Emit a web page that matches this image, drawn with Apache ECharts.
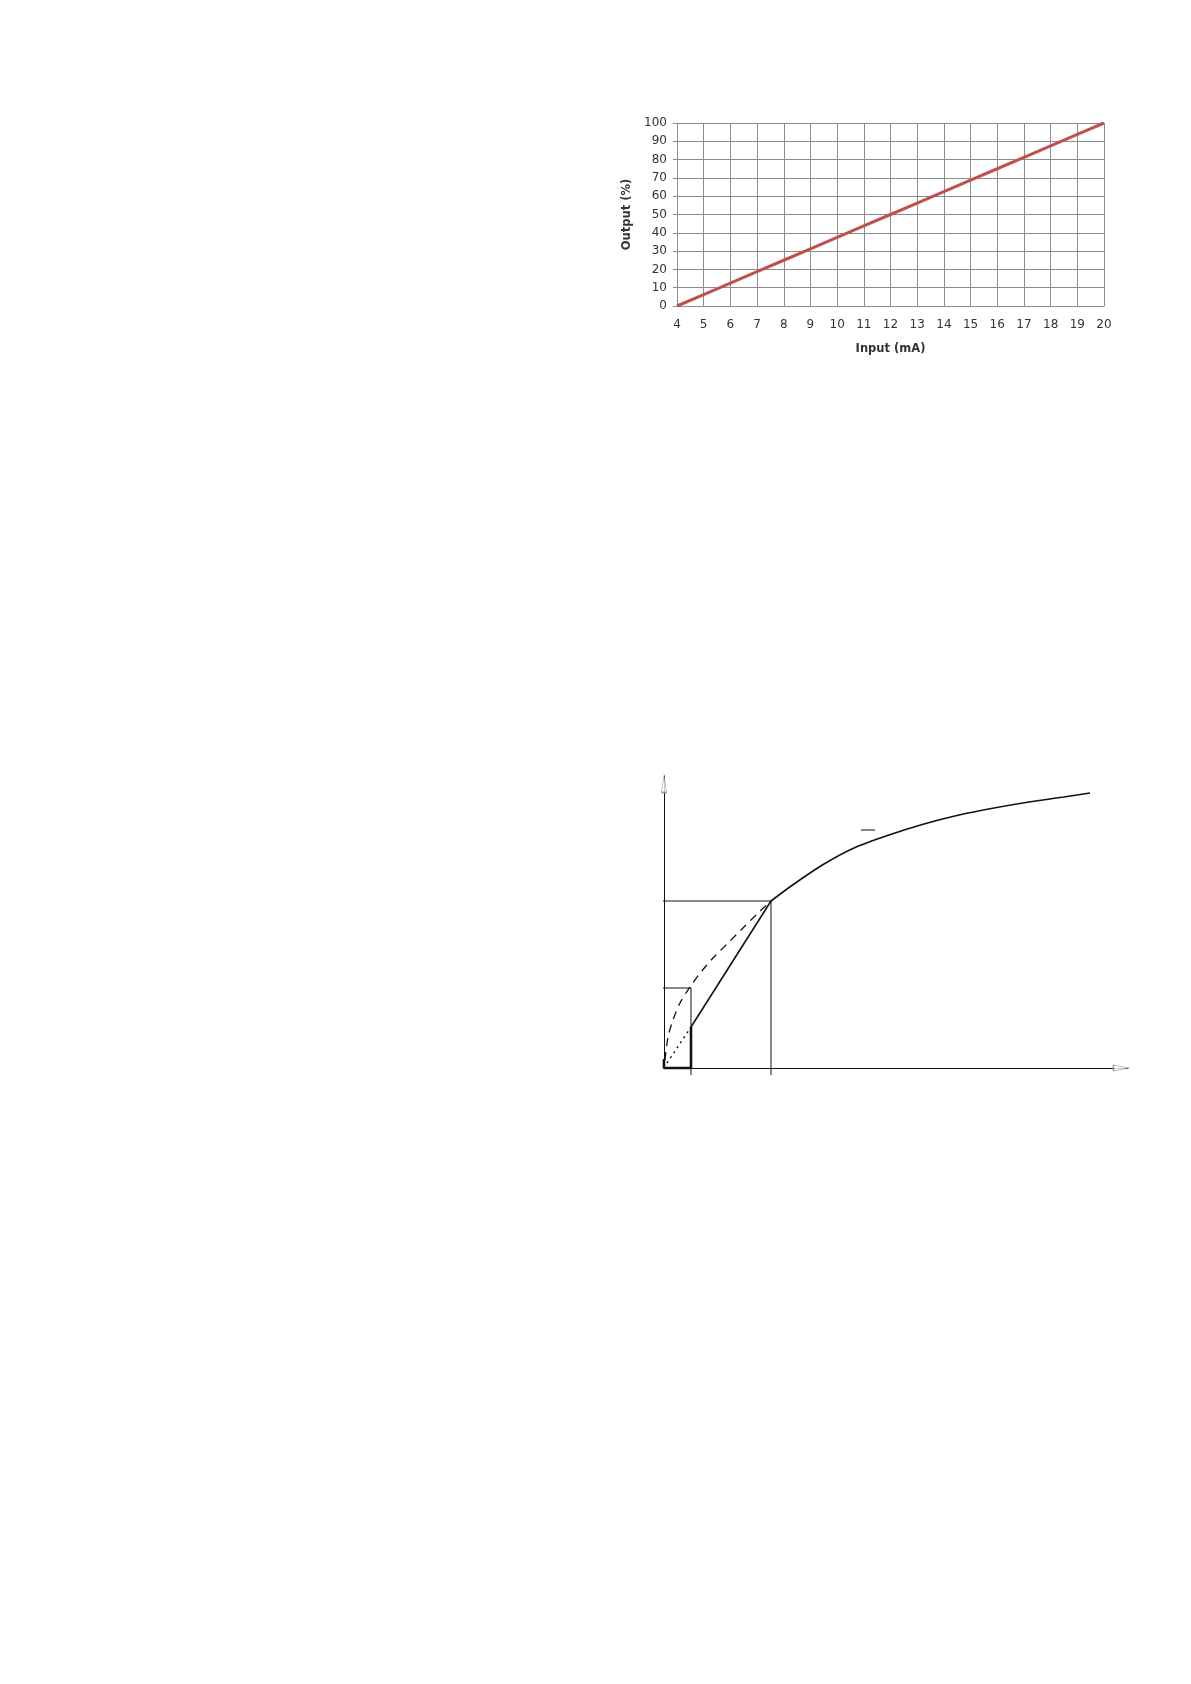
<!DOCTYPE html>
<html>
<head>
<meta charset="utf-8">
<title>Output vs Input</title>
<style>
  html, body { margin: 0; padding: 0; background: #fff; }
  #main { width: 1191px; height: 1684px; }
</style>
</head>
<body>
<div id="main"></div>
<script src="https://cdn.jsdelivr.net/npm/echarts@6/dist/echarts.min.js"></script>
<script>
// ---- chart 1: 4-20 mA -> output %
var inputMA = [4, 5, 6, 7, 8, 9, 10, 11, 12, 13, 14, 15, 16, 17, 18, 19, 20];
var outputPct = [0, 6.25, 12.5, 18.75, 25, 31.25, 37.5, 43.75, 50, 56.25, 62.5, 68.75, 75, 81.25, 87.5, 93.75, 100];

// ---- chart 2: sketch curve (arbitrary units, x 0..464, y 0..292)
var bracket = [[0, 9], [0, 0], [27, 0], [27, 41]];
var steepLine = [[27, 41], [107, 167]];
var upperCurve = [[107, 167], [130, 184], [160, 204], [190, 220], [225, 233], [260, 244],
  [295, 253], [330, 260], [365, 266], [400, 271], [426, 275]];
var dashedCurve = [[1, 8], [4, 31], [9, 48], [16, 65], [26, 81], [37, 96], [50, 111], [64, 125],
  [79, 140], [93, 154], [107, 167]];
var dottedLine = [[3, 5], [27, 41]];
var guideHigh = [[-9, 167], [107, 167], [107, -7]];
var guideLow = [[-8, 80], [27, 80], [27, -7]];
var smallDash = [[197, 238], [211, 238]];
var arrowX = [[457, 0]];
var arrowY = [[0, 284]];

var font = 'DejaVu Sans';
var chart = echarts.init(document.getElementById('main'));

function pair(xs, ys) {
  return xs.map(function (x, i) { return [x, ys[i]]; });
}

function sketchLine(data, width, type, smooth) {
  return {
    type: 'line', xAxisIndex: 1, yAxisIndex: 1, data: data,
    showSymbol: false, silent: true, clip: false, smooth: smooth || false,
    lineStyle: { color: '#111', width: width, type: type || 'solid' }
  };
}

chart.setOption({
  animation: false,
  grid: [
    { left: 677, top: 123, width: 427, height: 183 },
    { left: 664, top: 776, width: 464, height: 292 }
  ],
  xAxis: [{
    gridIndex: 0, type: 'value', min: 4, max: 20, interval: 1,
    name: 'Input (mA)', nameLocation: 'middle', nameGap: 37,
    nameTextStyle: { fontFamily: font, fontSize: 11.5, fontWeight: 'bold', color: '#333' },
    axisLine: { lineStyle: { color: '#8c8c8c' } },
    axisTick: { show: false },
    axisLabel: { margin: 13, fontFamily: font, fontSize: 12, color: '#333' },
    splitLine: { show: true, lineStyle: { color: '#8c8c8c', width: 1 } }
  }, {
    gridIndex: 1, type: 'value', min: 0, max: 464,
    axisLine: { show: true, onZero: false, lineStyle: { color: '#111', width: 1 } },
    axisTick: { show: false }, axisLabel: { show: false }, splitLine: { show: false }
  }],
  yAxis: [{
    gridIndex: 0, type: 'value', min: 0, max: 100, interval: 10,
    name: 'Output (%)', nameLocation: 'middle', nameGap: 44, nameRotate: 90,
    nameTextStyle: { fontFamily: font, fontSize: 11.5, fontWeight: 'bold', color: '#333' },
    axisLine: { show: true, lineStyle: { color: '#8c8c8c' } },
    axisTick: { show: true, length: 4, lineStyle: { color: '#8c8c8c' } },
    axisLabel: { margin: 10, fontFamily: font, fontSize: 12, color: '#333' },
    splitLine: { show: true, lineStyle: { color: '#8c8c8c', width: 1 } }
  }, {
    gridIndex: 1, type: 'value', min: 0, max: 292,
    axisLine: { show: true, onZero: false, lineStyle: { color: '#111', width: 1 } },
    axisTick: { show: false }, axisLabel: { show: false }, splitLine: { show: false }
  }],
  series: [
    {
      type: 'line', xAxisIndex: 0, yAxisIndex: 0, data: pair(inputMA, outputPct),
      showSymbol: false, silent: true,
      lineStyle: { color: '#c0504d', width: 3 }
    },
    sketchLine(guideHigh, 1),
    sketchLine(guideLow, 1),
    sketchLine(bracket, 2.6),
    sketchLine(steepLine, 1.6),
    sketchLine(upperCurve, 1.6, 'solid', 0.3),
    sketchLine(dashedCurve, 1.3, [8, 6], 0.3),
    sketchLine(dottedLine, 1.4, [2, 4]),
    sketchLine(smallDash, 1.2),
    {
      type: 'scatter', xAxisIndex: 1, yAxisIndex: 1, data: arrowX, clip: false, silent: true,
      symbol: 'triangle', symbolSize: [6, 15], symbolRotate: -90,
      itemStyle: { color: '#fff', borderColor: '#888', borderWidth: 1 }
    },
    {
      type: 'scatter', xAxisIndex: 1, yAxisIndex: 1, data: arrowY, clip: false, silent: true,
      symbol: 'triangle', symbolSize: [5, 17],
      itemStyle: { color: '#fff', borderColor: '#888', borderWidth: 1 }
    }
  ]
});
</script>
</body>
</html>
